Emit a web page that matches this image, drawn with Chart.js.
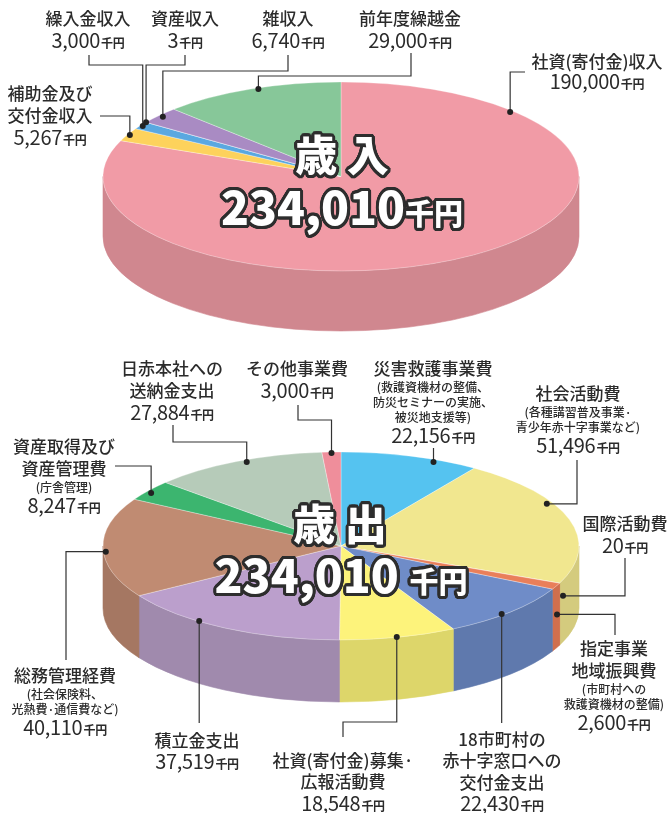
<!DOCTYPE html>
<html>
<head>
<meta charset="utf-8">
<script src="https://cdn.jsdelivr.net/npm/chart.js@4.4.1/dist/chart.umd.min.js"></script>
<style>
  html, body { margin: 0; padding: 0; background: #fff; }
  #wrap { position: relative; width: 669px; height: 813px; overflow: hidden;
          font-family: "Noto Sans CJK JP", "Noto Sans", sans-serif; color: #2b2b2b; }
  canvas { position: absolute; left: 0; top: 0; }
  .lab { position: absolute; transform: translateX(-50%); text-align: center; white-space: nowrap; }
  .h { font-size: 17px; font-weight: 500; line-height: 22px; }
  .s { font-size: 12px; font-weight: 500; line-height: 15px; }
  .n { font-size: 20px; font-weight: 400; line-height: 22px; letter-spacing: -0.3px; }
  .n span { font-size: 12px; font-weight: 700; margin-left: 1px; }
  .big { position: absolute; transform: translate(-50%, -50%); white-space: nowrap;
         color: #fff; font-weight: 900; line-height: 1; }
</style>
</head>
<body>
<div id="wrap">
  <canvas id="incomeChart" width="669" height="813"></canvas>
  <canvas id="expenseChart" width="669" height="813"></canvas>
  <div id="texts"></div>
</div>
<script>
// 歳入
const incomeNames = ['社資(寄付金)収入', '補助金及び\n交付金収入', '繰入金収入', '資産収入', '雑収入', '前年度繰越金'];
const incomeValues = [190000, 5267, 3000, 3, 6740, 29000];
const incomeColors = ['#f19ba6', '#fdd25c', '#5aa8e0', '#c9c9c9', '#a98bc3', '#87c799'];
const incomeSides  = ['#d0878f', '#dbb650', '#4e92c3', '#afafaf', '#9379a9', '#75ad85'];

// 歳出
const expenseNames = ['災害救護事業費', '社会活動費', '国際活動費', '指定事業\n地域振興費', '18市町村の\n赤十字窓口への\n交付金支出',
  '社資(寄付金)募集·\n広報活動費', '積立金支出', '総務管理経費', '資産取得及び\n資産管理費', '日赤本社への\n送納金支出', 'その他事業費'];
const expenseNotes = [['(救護資機材の整備、', '防災セミナーの実施、', '被災地支援等)'], ['(各種講習普及事業·', '青少年赤十字事業など)'], [],
  ['(市町村への', '救護資機材の整備)'], [], [], [], ['(社会保険料、', '光熱費·通信費など)'], ['(庁舎管理)'], [], []];
const expenseValues = [22156, 51496, 20, 2600, 22430, 18548, 37519, 40110, 8247, 27884, 3000];
const expenseColors = ['#55c3f0', '#f1e78f', '#f2a070', '#e97f5a', '#6f8cc8', '#fdf37b', '#bb9fcc', '#c08b72', '#3cb56f', '#b6cbb9', '#ef8e9b'];
const expenseSides  = ['#49a8d0', '#d4cb7e', '#d08a60', '#d06f4e', '#5f79ad', '#ddd66a', '#a08aad', '#a57762', '#339c60', '#9db0a0', '#cf7b86'];

// callout layout: label position, dot position inside slice (t = along the slice, f = radius share, drop = px down the side)
const incomeCallouts = [
  { x: 597, top: 51, lh: 20, t: 0.158, f: 0.985, route: d => [[525, 72], [d.x, 72], [d.x, d.y]] },
  { x: 50, top: 82, t: 0.5, f: 0.99, route: d => [[100, 116], [d.x, 116], [d.x, d.y]] },
  { x: 88, top: 7, t: 0.5, f: 0.99, route: d => [[89, 55], [89, 65], [d.x, 65], [d.x, d.y]] },
  { x: 185, top: 7, t: 0.5, f: 1.0, route: d => [[185, 55], [185, 65], [d.x, 65], [d.x, d.y]] },
  { x: 288, top: 7, t: 0.5, f: 0.98, route: d => [[288, 55], [288, 71], [d.x, 71], [d.x, d.y]] },
  { x: 410, top: 7, t: 0.54, f: 0.99, route: d => [[411, 53], [411, 76], [d.x, 76], [d.x, d.y]] }
];
const expenseCallouts = [
  { x: 433, top: 357, t: 0.69, f: 0.974, route: d => [[d.x, 448], [d.x, d.y]] },
  { x: 578, top: 382, t: 0.36, f: 0.974, route: d => [[577, 460], [577, d.y], [d.x, d.y]] },
  { x: 625, top: 512, t: 0.5, f: 1, da: -2.2, drop: 16, route: d => [[625, 558], [625, d.y], [d.x, d.y]] },
  { x: 614, top: 637, t: 0.37, f: 1, drop: 29, route: d => [[d.x, d.y], [615, d.y], [615, 635]] },
  { x: 502, top: 728, lh: 21.3, t: 0.57, f: 0.99, route: d => [[d.x, d.y], [d.x, 723]] },
  { x: 343, top: 749, lh: 21.3, t: 0.51, f: 0.996, route: d => [[d.x, d.y], [d.x, 722], [343, 722], [343, 737]] },
  { x: 197, top: 729, lh: 21, t: 0.63, f: 0.996, route: d => [[d.x, d.y], [d.x, 723]] },
  { x: 65, top: 664, t: 0.46, f: 0.99, route: d => [[d.x, d.y], [66, d.y], [66, 660]] },
  { x: 64, top: 435, t: 0.43, f: 0.977, route: d => [[115, 466], [d.x, 466], [d.x, d.y]] },
  { x: 172, top: 357, t: 0.55, f: 0.977, route: d => [[173, 425], [173, 442], [d.x, 442], [d.x, d.y]] },
  { x: 297, top: 357, t: 0.5, f: 0.99, route: d => [[298, 405], [298, 420], [d.x, 420], [d.x, d.y]] }
];

const fmt = v => v.toLocaleString('en-US');

// flattened pie: side walls, squashed top face, leader lines
const pie3d = {
  id: 'pie3d',
  beforeDatasetsDraw(chart, args, o) {
    const ctx = chart.ctx;
    const arcs = chart.getDatasetMeta(0).data;
    const r = arcs[0].outerRadius;
    ctx.save();
    arcs.forEach((arc, i) => {
      for (const off of [-2 * Math.PI, 0, 2 * Math.PI]) {
        const lo = Math.max(arc.startAngle, off);
        const hi = Math.min(arc.endAngle, off + Math.PI);
        if (hi <= lo) continue;
        ctx.beginPath();
        ctx.ellipse(o.cx, o.cy, r, o.ry, 0, lo, hi);
        ctx.ellipse(o.cx, o.cy + o.depth, r, o.ry, 0, hi, lo, true);
        ctx.closePath();
        ctx.fillStyle = o.sides[i];
        ctx.strokeStyle = o.sides[i];
        ctx.lineWidth = 0.6;
        ctx.fill();
        ctx.stroke();
      }
    });
    ctx.restore();
    ctx.save();
    ctx.translate(o.cx, o.cy);
    ctx.scale(1, o.ry / r);
    ctx.translate(-arcs[0].x, -arcs[0].y);
  },
  afterDatasetsDraw(chart) {
    chart.ctx.restore();
  },
  afterDraw(chart, args, o) {
    const ctx = chart.ctx;
    const arcs = chart.getDatasetMeta(0).data;
    const r = arcs[0].outerRadius;
    ctx.save();
    ctx.strokeStyle = '#333';
    ctx.fillStyle = '#222';
    ctx.lineWidth = 1.2;
    o.callouts.forEach((c, i) => {
      const arc = arcs[i];
      const a = arc.startAngle + c.t * (arc.endAngle - arc.startAngle) + (c.da || 0) * Math.PI / 180;
      const d = { x: o.cx + c.f * r * Math.cos(a), y: o.cy + c.f * o.ry * Math.sin(a) + (c.drop || 0) };
      const pts = c.route(d);
      ctx.beginPath();
      pts.forEach((p, j) => j ? ctx.lineTo(p[0], p[1]) : ctx.moveTo(p[0], p[1]));
      ctx.stroke();
      ctx.beginPath();
      ctx.arc(d.x, d.y, 3, 0, Math.PI * 2);
      ctx.fill();
    });
    ctx.restore();
  }
};

function makePie(id, names, values, colors, sides, geo, callouts) {
  return new Chart(document.getElementById(id), {
    type: 'pie',
    data: {
      labels: names.map(n => n.replace(/\n/g, '')),
      datasets: [{
        data: values,
        backgroundColor: colors,
        borderColor: 'rgba(255,255,255,0.55)',
        borderWidth: 0.8,
        radius: geo.r,
        clip: false
      }]
    },
    plugins: [pie3d],
    options: {
      responsive: false,
      animation: false,
      events: [],
      plugins: {
        legend: { display: false },
        tooltip: { enabled: false },
        pie3d: { cx: geo.cx, cy: geo.cy, ry: geo.ry, depth: geo.depth, sides: sides, callouts: callouts }
      }
    }
  });
}

makePie('incomeChart', incomeNames, incomeValues, incomeColors, incomeSides,
  { cx: 341, cy: 176.5, r: 238, ry: 94.5, depth: 60 }, incomeCallouts);
makePie('expenseChart', expenseNames, expenseValues, expenseColors, expenseSides,
  { cx: 341, cy: 546, r: 238, ry: 94, depth: 62 }, expenseCallouts);

// text
const box = document.getElementById('texts');
function addLabel(c, name, notes, value) {
  const el = document.createElement('div');
  el.className = 'lab';
  el.style.left = c.x + 'px';
  el.style.top = c.top + 'px';
  let html = '';
  name.split('\n').forEach(l => { html += '<div class="h">' + l + '</div>'; });
  notes.forEach(l => { html += '<div class="s">' + l + '</div>'; });
  html += '<div class="n">' + fmt(value) + '<span>千円</span></div>';
  el.innerHTML = html;
  if (c.lh) el.querySelectorAll('.h,.n').forEach(e => e.style.lineHeight = c.lh + 'px');
  box.appendChild(el);
}
incomeCallouts.forEach((c, i) => addLabel(c, incomeNames[i], [], incomeValues[i]));
expenseCallouts.forEach((c, i) => addLabel(c, expenseNames[i], expenseNotes[i], expenseValues[i]));

let shadow = [];
for (let k = 0; k < 24; k++) {
  const a = k / 24 * Math.PI * 2;
  shadow.push((3 * Math.cos(a)).toFixed(2) + 'px ' + (3 * Math.sin(a)).toFixed(2) + 'px 0 #2e2e2e');
  shadow.push((1.6 * Math.cos(a)).toFixed(2) + 'px ' + (1.6 * Math.sin(a)).toFixed(2) + 'px 0 #2e2e2e');
}
function addBig(text, x, y, size) {
  const el = document.createElement('div');
  el.className = 'big';
  el.style.left = x + 'px';
  el.style.top = y + 'px';
  el.style.fontSize = size + 'px';
  el.style.textShadow = shadow.join(',');
  el.innerHTML = text;
  box.appendChild(el);
}
const incomeTotal = incomeValues.reduce((a, b) => a + b, 0);
const expenseTotal = expenseValues.reduce((a, b) => a + b, 0);
addBig('歳 入', 342, 153, 42);
addBig(fmt(incomeTotal) + '<span style="font-size:29px">千円</span>', 342, 205, 46);
addBig('歳 出', 340, 522, 42);
addBig(fmt(expenseTotal) + ' <span style="font-size:29px">千円</span>', 341, 573, 46);
</script>
</body>
</html>
